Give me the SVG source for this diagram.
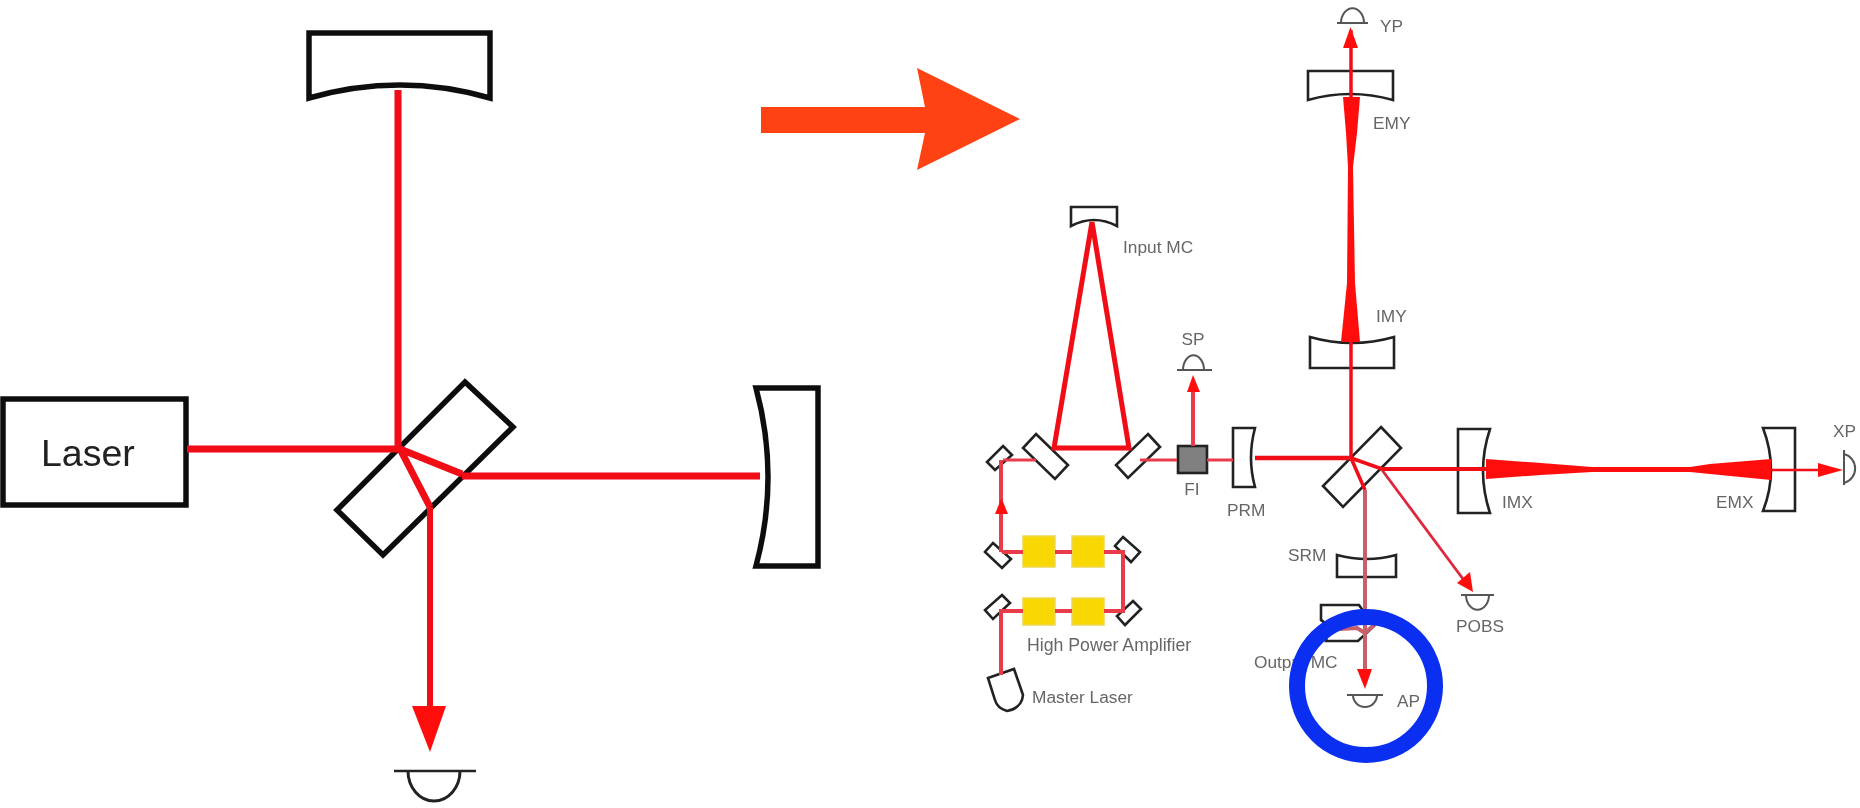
<svg xmlns="http://www.w3.org/2000/svg" width="1860" height="808" viewBox="0 0 1860 808">
<defs>
<filter id="soft" x="-2%" y="-2%" width="104%" height="104%"><feGaussianBlur stdDeviation="0.7"/></filter>
<style>
.m{fill:#fff;stroke:#111;stroke-width:5.5;stroke-linejoin:miter}
.s{fill:#fff;stroke:#222;stroke-width:2.6;stroke-linejoin:miter}
.d{fill:none;stroke:#555;stroke-width:2}
.y{fill:#f8d800;stroke:#ecd850;stroke-width:1.5}
.t{font-family:"Liberation Sans",Arial,sans-serif;font-size:17.3px;fill:#666}
.r{fill:none;stroke:#f00a18;stroke-linecap:butt}
.p{fill:none;stroke:#ea3a4c;stroke-linecap:butt}
.f{fill:#ff1010;stroke:none}
</style>
</defs>
<rect width="1860" height="808" fill="#fff"/>
<g id="left-part" filter="url(#soft)">
<g id="left-mirror-top"><path class="m" d="M309,33H490V98Q400,72 309,98Z"/></g>
<g id="left-laser"><rect class="m" x="3" y="399" width="183" height="106"/><text x="41" y="466" font-family="Liberation Sans,Arial,sans-serif" font-size="37.5" fill="#222">Laser</text></g>
<g id="left-splitter"><path class="m" d="M465,382L513,427L383,555L337,510Z"/></g>
<g id="left-mirror-right"><path class="m" d="M756,388H818V566H756Q780,477 756,388Z"/></g>
<g id="left-detector"><path d="M394,771H476" fill="none" stroke="#222" stroke-width="2.5"/><path d="M408,771A26,30 0 0 0 460,771" fill="none" stroke="#222" stroke-width="3"/></g>
<g id="left-beams">
<path class="r" stroke-width="7" d="M398,90V449M187,449H400M400,449L462,474M400,449L430,507M462,476H760"/>
<path class="r" stroke-width="6" d="M430,507V712"/>
<path class="f" d="M412,706H446L430,752Z"/>
</g>
</g>
<g id="arrow-big"><path fill="#ff4213" d="M761,107H925L917,68L1020,119L917,170L925,133H761Z"/></g>
<g id="right-part" filter="url(#soft)">
<g id="input-mc"><path class="s" d="M1071,207H1117V226Q1094,214 1071,226Z"/><text class="t" x="1123" y="253">Input MC</text></g>
<g id="mc-mirror-l"><path class="s" d="M1036,434L1068,465L1055,479L1023,448Z"/></g>
<g id="mc-mirror-r"><path class="s" d="M1148,434L1160,447L1128,478L1116,465Z"/></g>
<g id="steer-1"><path class="s" d="M1003,446L1012,455L995,470L987,462Z"/></g>
<g id="steer-2"><path class="s" d="M993,543L1011,559L1002,568L985,552Z"/></g>
<g id="steer-3"><path class="s" d="M1123,537L1140,552L1131,562L1115,546Z"/></g>
<g id="steer-4"><path class="s" d="M1002,595L1010,603L993,619L985,610Z"/></g>
<g id="steer-5"><path class="s" d="M1133,601L1141,609L1125,625L1117,616Z"/></g>
<g id="amp-1"><rect class="y" x="1023" y="536" width="32" height="31"/></g>
<g id="amp-2"><rect class="y" x="1072" y="536" width="32" height="31"/></g>
<g id="amp-3"><rect class="y" x="1023" y="598" width="32" height="27"/></g>
<g id="amp-4"><rect class="y" x="1072" y="598" width="32" height="27"/></g>
<g id="amp-label"><text class="t" x="1027" y="651" style="font-size:17.7px">High Power Amplifier</text></g>
<g id="master-laser"><path class="s" d="M988,678L1014,669L1023,695Q1022,708 1007,711Q997,708 995,700Z"/><text class="t" x="1032" y="703">Master Laser</text></g>
<g id="fi"><rect x="1178" y="446" width="29" height="27" fill="#808080" stroke="#222" stroke-width="2.6"/><text class="t" x="1192" y="495" text-anchor="middle">FI</text></g>
<g id="sp"><path class="d" d="M1177,370H1212"/><path class="d" d="M1183,370A10,14 0 0 1 1204,370"/><text class="t" x="1193" y="345" text-anchor="middle">SP</text></g>
<g id="prm"><path class="s" d="M1233,428H1255Q1247,458 1255,487H1233Z"/><text class="t" x="1227" y="516">PRM</text></g>
<g id="splitter"><path class="s" d="M1381,427L1401,448L1343,507L1323,486Z"/></g>
<g id="imy"><path class="s" d="M1310,337Q1352,349 1394,337V368H1310Z"/><text class="t" x="1376" y="322">IMY</text></g>
<g id="emy"><path class="s" d="M1308,71H1393V100Q1350,88 1308,100Z"/><text class="t" x="1373" y="129">EMY</text></g>
<g id="yp"><path class="d" d="M1337,23H1368"/><path class="d" d="M1341,23A11,14 0 0 1 1364,23"/><text class="t" x="1380" y="32">YP</text></g>
<g id="imx"><path class="s" d="M1458,429H1490Q1476,471 1490,513H1458Z"/><text class="t" x="1502" y="508">IMX</text></g>
<g id="emx"><path class="s" d="M1763,428H1795V511H1763Q1779,470 1763,428Z"/><text class="t" x="1716" y="508">EMX</text></g>
<g id="xp"><path class="d" d="M1844,450V485"/><path class="d" d="M1844,454A15,15 0 0 1 1844,483"/><text class="t" x="1833" y="437">XP</text></g>
<g id="srm"><path class="s" d="M1337,555Q1367,563 1396,555V577H1337Z"/><text class="t" x="1288" y="561">SRM</text></g>
<g id="pobs"><path class="d" d="M1461,595H1494"/><path class="d" d="M1466,595A11,14 0 0 0 1489,595"/><text class="t" x="1456" y="632">POBS</text></g>
<g id="output-mc"><path class="s" d="M1321,605H1359L1374,626L1358,641H1326Q1330,625 1321,620Z"/><text class="t" x="1254" y="668">Output MC</text></g>
<g id="ap"><path class="d" d="M1347,695H1383"/><path class="d" d="M1353,695A12,12 0 0 0 1377,695"/><text class="t" x="1397" y="707">AP</text></g>
<g id="connectors">
<path class="r" stroke-width="5" d="M1092,222L1054,448H1129L1092,222"/>
<path class="p" stroke-width="3" d="M1003,460H1036M1140,460H1177M1207,460H1233"/>
<path class="p" stroke-width="4" d="M1193,446V390M1001,512V552M1002,552H1023M1055,552H1072M1104,552H1123V611H1104M1072,611H1055M1023,611H1001V675M1001,511V460"/>
<path class="f" d="M1193,375L1200,392H1187Z"/>
<path class="f" d="M1001.500,498L1008,514H995Z"/>
<path class="r" stroke-width="4.500" d="M1255,458H1351"/>
<path class="r" stroke-width="3.500" d="M1351,458V30M1351,458L1382,469M1351,458L1365,490"/>
<path fill="none" stroke="#c8606c" stroke-width="4" d="M1365,490V670M1340,629L1357,628L1365,633L1374,625"/>
<path fill="none" stroke="#e0283c" stroke-width="2.800" d="M1382,470L1466,583"/>
<path class="f" d="M1343,97H1360L1357,133L1353,167L1355,283L1360,342H1341L1347,283L1348,167L1346,133Z"/>
<path class="f" d="M1350.500,27L1358,48H1343Z"/>
<path class="r" stroke-width="4" d="M1382,469H1486"/>
<path class="f" d="M1486,459L1541,463L1592,467L1690,467L1710,464L1771,459V480L1710,474L1690,472L1592,472L1541,475L1486,479Z"/>
<path class="r" stroke-width="2.500" d="M1771,470H1825"/>
<path class="f" d="M1843,470L1818,463V477Z"/>
<path class="f" d="M1473,592L1457,583L1470,572Z"/>
<path class="f" d="M1357,669H1372L1365,689Z"/>
</g>
</g>
<g id="highlight-ring"><circle cx="1366" cy="686" r="69" fill="none" stroke="#0a2ff0" stroke-width="16"/></g>
</svg>
